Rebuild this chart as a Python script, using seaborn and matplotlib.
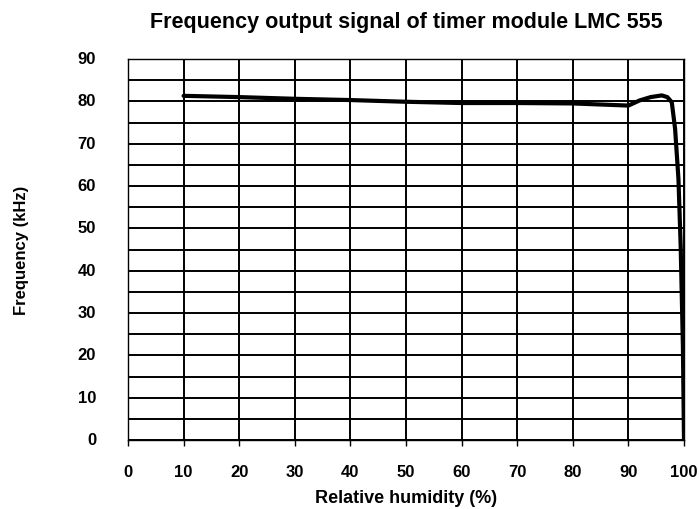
import numpy as np
import pandas as pd
import matplotlib
matplotlib.use('Agg')
import matplotlib.pyplot as plt
import matplotlib.transforms as mtransforms
from matplotlib.ticker import MultipleLocator
import seaborn as sns

# -----------------------------------------------------
# DATA
# -----------------------------------------------------
humidity = [10, 20, 30, 40, 50, 60, 70, 80, 90, 92, 94, 96, 97, 97.8, 98.4, 99, 99.4, 99.8, 100]
frequency = [81.3, 81.0, 80.6, 80.3, 79.9, 79.6, 79.6, 79.5, 79.0, 80.2, 81.0, 81.4, 81.0, 79.8, 73.5, 61.7, 45.9, 22.3, 0]

x_ticks = list(range(0, 101, 10))
y_ticks = list(range(0, 91, 10))

df = pd.DataFrame({'humidity': humidity, 'frequency': frequency})

# -----------------------------------------------------
# STYLE
# -----------------------------------------------------
sns.set_theme(style='white')
plt.rcParams['font.family'] = ['Liberation Sans', 'DejaVu Sans']
plt.rcParams['font.weight'] = 'bold'
for k in ['text.color', 'axes.labelcolor', 'xtick.color', 'ytick.color']:
    plt.rcParams[k] = 'black'

fig = plt.figure(figsize=(6.99, 5.10), dpi=100)
ax = fig.add_axes([128 / 699, 1 - 441 / 510, 556 / 699, 381 / 510])

sns.lineplot(ax=ax, data=df, x='humidity', y='frequency', color='black', linewidth=3.0, sort=False)

ax.set_xlim(0, 100)
ax.set_ylim(0, 90)
ax.set_xticks(x_ticks)
ax.set_yticks(y_ticks)
ax.yaxis.set_minor_locator(MultipleLocator(5))

ax.grid(True, which='both', axis='y', color='black', linewidth=1.4)
ax.grid(True, which='major', axis='x', color='black', linewidth=1.4)

for s in ax.spines.values():
    s.set_color('black')
    s.set_linewidth(1.0)

ax.tick_params(axis='x', which='major', length=4.5, width=1, color='black', direction='out',
               bottom=True, pad=13, labelsize=12, labelcolor='black')
ax.tick_params(axis='y', which='both', length=0, pad=23, labelsize=12, labelcolor='black')
for lab in ax.get_xticklabels() + ax.get_yticklabels():
    lab.set_fontweight('bold')

# y labels sit a bit above their gridline in the original
offset = mtransforms.ScaledTranslation(0, 2 / 100, fig.dpi_scale_trans)
for lab in ax.get_yticklabels():
    lab.set_transform(lab.get_transform() + offset)

ax.set_xlabel('Relative humidity (%)', fontsize=13, fontweight='bold', labelpad=7, color='black')
ax.set_ylabel('Frequency (kHz)', fontsize=12, fontweight='bold', labelpad=35, color='black')
ax.set_title('Frequency output signal of timer module LMC 555', fontsize=15.5,
             fontweight='bold', pad=23, color='black')

fig.savefig('out.png', dpi=100)
